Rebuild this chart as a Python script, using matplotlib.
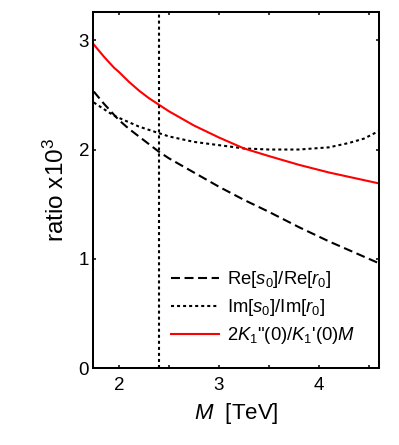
import matplotlib
matplotlib.use('Agg')
import matplotlib.pyplot as plt
from matplotlib.ticker import MultipleLocator

plt.rcParams['font.family'] = ['Liberation Sans', 'DejaVu Sans']
plt.rcParams['mathtext.fontset'] = 'custom'
plt.rcParams['mathtext.rm'] = 'Liberation Sans'
plt.rcParams['mathtext.it'] = 'Liberation Sans:italic'

# values (ratio x10^3 vs M in TeV)
m_vals = [1.75, 1.85, 1.95, 2.0, 2.1, 2.2, 2.3, 2.4, 2.5, 2.75, 3.0, 3.25,
          3.5, 3.8, 4.1, 4.3, 4.45, 4.6]
re_ratio = [2.53, 2.42, 2.32, 2.27, 2.19, 2.12, 2.05, 1.98, 1.92, 1.79, 1.66, 1.54,
            1.43, 1.29, 1.16, 1.08, 1.02, 0.96]
im_ratio = [2.43, 2.37, 2.31, 2.29, 2.25, 2.21, 2.18, 2.15, 2.12, 2.07, 2.04, 2.01,
            2.00, 2.00, 2.02, 2.06, 2.10, 2.17]
k_ratio = [2.96, 2.85, 2.75, 2.71, 2.62, 2.54, 2.47, 2.41, 2.35, 2.22, 2.11, 2.01,
           1.94, 1.86, 1.79, 1.75, 1.72, 1.69]
m_cut = 2.4

fig = plt.figure(figsize=(3.99, 4.45), dpi=100)
ax = fig.add_axes([0.2338, 0.1724, 0.7162, 0.8013])

ax.plot(m_vals, re_ratio, color='black', lw=1.5, dashes=(4.3, 2.2),
        label='Re[$s_0$]/Re[$r_0$]')
ax.plot(m_vals, im_ratio, color='black', lw=1.5, dashes=(1.45, 1.45),
        label='Im[$s_0$]/Im[$r_0$]')
ax.plot(m_vals, k_ratio, color='#ff0000', lw=1.5,
        label='2$K_1$"(0)/$K_1$\'(0)$M$')
ax.axvline(m_cut, color='black', lw=1.5, dashes=(1.45, 1.45))

ax.set_xlim(1.745, 4.6)
ax.set_ylim(0, 3.26)

ax.xaxis.set_major_locator(MultipleLocator(1))
ax.xaxis.set_minor_locator(MultipleLocator(0.5))
ax.yaxis.set_major_locator(MultipleLocator(1))

ax.tick_params(which='both', direction='in', top=True, right=True,
               length=2.5, width=1.1, labelsize=13.5)
ax.tick_params(axis='x', which='both', pad=6.5)
ax.tick_params(axis='y', pad=3)
for s in ax.spines.values():
    s.set_linewidth(1.45)

ax.set_xlabel('$M$  [TeV]', fontsize=16, labelpad=5)
ax.set_ylabel('ratio x10$^3$', fontsize=17.5, labelpad=7)

ax.legend(loc='upper left', bbox_to_anchor=(0.272, 0.278), frameon=False,
          fontsize=13.3, handlelength=2.6, handletextpad=0.45,
          borderpad=0, borderaxespad=0, labelspacing=0.38)

fig.savefig('out.png', dpi=100)
